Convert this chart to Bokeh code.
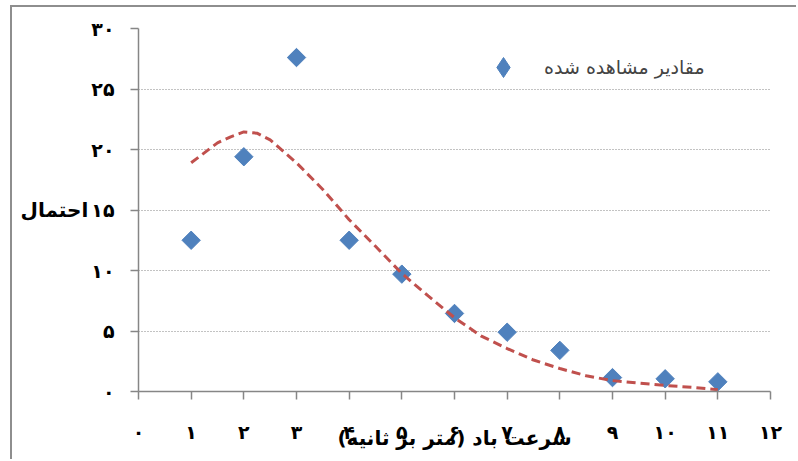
from bokeh.plotting import figure
from bokeh.models import FixedTicker, Legend, LegendItem
from bokeh.embed import file_html
from bokeh.resources import INLINE
from math import pi

# observed wind speed frequencies (percent)
wind_speed = [1, 2, 3, 4, 5, 6, 7, 8, 9, 10, 11]
observed = [12.5, 19.4, 27.6, 12.5, 9.7, 6.45, 4.9, 3.4, 1.15, 1.05, 0.8]

# fitted distribution
fit_speed = [1, 1.5, 1.75, 2, 2.25, 2.5, 3, 3.5, 4, 4.5, 5, 5.5, 6, 6.5, 7, 7.5, 8, 8.5, 9, 9.5,
             10, 10.5, 11]
fit_value = [18.9, 20.55, 21.05, 21.45, 21.35, 20.8, 18.9, 16.7, 14.2, 12.0, 9.75, 7.9, 6.1, 4.6,
             3.55, 2.6, 1.9, 1.3, 0.9, 0.7, 0.5, 0.35, 0.15]

x_ticks = [0, 1, 2, 3, 4, 5, 6, 7, 8, 9, 10, 11, 12]
x_tick_labels = ["۰", "۱", "۲", "۳", "۴", "۵", "۶", "۷", "۸", "۹", "۱۰", "۱۱", "۱۲"]
y_ticks = [0, 5, 10, 15, 20, 25, 30]
y_tick_labels = ["۰", "۵", "۱۰", "۱۵", "۲۰", "۲۵", "۳۰"]

legend_text = "مقادیر مشاهده شده"
x_title = "سرعت باد (متر بر ثانیه)"
y_title = "احتمال"

FONT = "DejaVu Sans"
GRAY = "#868686"
BLUE = "#4F81BD"

p = figure(width=786, height=454, x_range=(0, 12), y_range=(0, 30),
           output_backend="svg", toolbar_location=None,
           min_border_left=126, min_border_right=28, min_border_top=21, min_border_bottom=70)
p.outline_line_color = None
# chart area border (left and top edges are the only ones inside the window)
p.styles = {"margin-left": "12px", "margin-top": "7px",
            "box-shadow": "-2px -2px 0px 0px #8e8e8e"}

# axes
for ax in (p.xaxis, p.yaxis):
    ax.axis_line_color = GRAY
    ax.axis_line_width = 1.5
    ax.major_tick_line_color = GRAY
    ax.major_tick_line_width = 1.5
    ax.major_tick_out = 8
    ax.major_tick_in = 0
    ax.minor_tick_line_color = None
    ax.major_label_text_font = FONT
    ax.major_label_text_font_style = "bold"
    ax.major_label_text_font_size = "19px"
    ax.major_label_text_color = "black"
    ax.axis_label_text_font = FONT
    ax.axis_label_text_font_style = "bold"
    ax.axis_label_text_font_size = "20px"
    ax.axis_label_text_color = "black"

p.xaxis.ticker = FixedTicker(ticks=x_ticks)
p.xaxis.major_label_overrides = dict(zip(x_ticks, x_tick_labels))
p.xaxis.major_label_standoff = 21
p.xaxis.axis_label = x_title
p.xaxis.axis_label_standoff = -20

p.yaxis.ticker = FixedTicker(ticks=y_ticks)
p.yaxis.major_label_overrides = dict(zip(y_ticks, y_tick_labels))
p.yaxis.major_label_standoff = 16
p.yaxis.axis_label = y_title
p.yaxis.axis_label_orientation = "horizontal"
p.yaxis.axis_label_standoff = 0

p.xgrid.grid_line_color = None
p.ygrid.grid_line_color = GRAY
p.ygrid.grid_line_dash = "1 2"
p.ygrid.grid_line_width = 1

# data
p.scatter(wind_speed, observed, marker="square", size=13, angle=pi / 4,
          fill_color=BLUE, line_color=BLUE)
p.line(fit_speed, fit_value, line_color="#C0504D", line_width=3, line_dash="9 5")

# legend key: a renderer with no visible point so the key is drawn as a diamond
key = p.scatter(x=[float("nan")], y=[float("nan")], marker="diamond", size=20,
                fill_color=BLUE, line_color=BLUE)
legend = Legend(items=[LegendItem(label=legend_text, renderers=[key])],
                location=(340, 299), padding=0, spacing=0, border_line_color=None,
                background_fill_alpha=0, glyph_width=50, glyph_height=50, label_standoff=16,
                label_text_font=FONT, label_text_font_size="19px")
p.add_layout(legend)

open("out.html", "w").write(file_html(p, INLINE))
